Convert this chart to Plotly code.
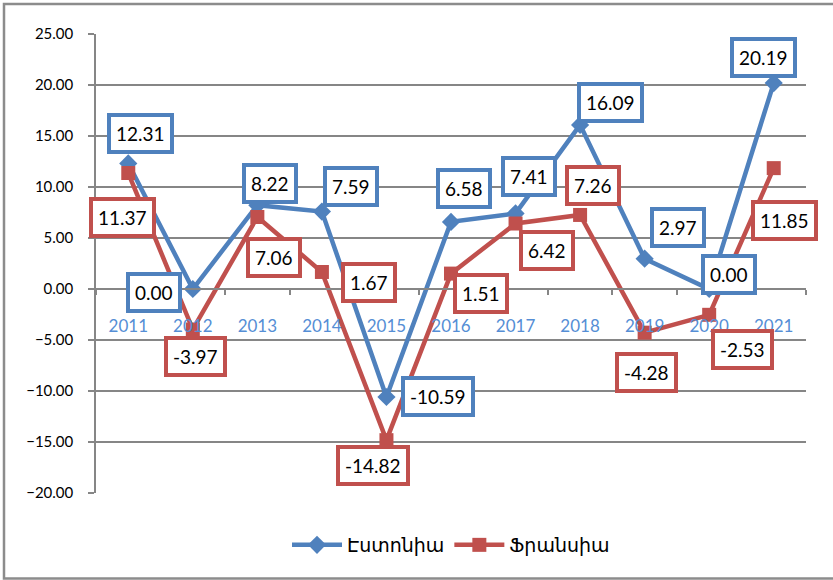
import plotly.graph_objects as go

years = ["2011", "2012", "2013", "2014", "2015", "2016", "2017", "2018", "2019", "2020", "2021"]
estonia = [12.31, 0.00, 8.22, 7.59, -10.59, 6.58, 7.41, 16.09, 2.97, 0.00, 20.19]
france = [11.37, -3.97, 7.06, 1.67, -14.82, 1.51, 6.42, 7.26, -4.28, -2.53, 11.85]
names = ["Էստոնիա", "Ֆրանսիա"]

# label offsets in pixels (dx right, dy down) relative to each marker
est_off = [(12, -30), (-39, 3), (13, -22), (29, -25), (52, -1), (13, -33),
           (13, -37), (30, -22), (33, -31), (20, -15), (-10, -26)]
fra_off = [(-6, 44), (3, 27), (17, 41), (47, 11), (-13, 25), (30, 20),
           (31, 27), (13, -29), (2, 40), (33, 35), (11, 52)]

BLUE = "#4F81BD"
RED = "#C0504D"
FONT = "Lato, DejaVu Sans, sans-serif"

fig = go.Figure()
fig.add_trace(go.Scatter(x=years, y=estonia, name=names[0], mode="lines+markers",
                         line=dict(color=BLUE, width=4.5),
                         marker=dict(symbol="diamond", size=14, color=BLUE)))
fig.add_trace(go.Scatter(x=years, y=france, name=names[1], mode="lines+markers",
                         line=dict(color=RED, width=4.5),
                         marker=dict(symbol="square", size=14, color=RED)))

anns = []
for vals, offs, col in ((estonia, est_off, BLUE), (france, fra_off, RED)):
    for i, (v, (dx, dy)) in enumerate(zip(vals, offs)):
        anns.append(dict(x=i, y=v, xref="x", yref="y", text=f"{v:.2f}", showarrow=False,
                         xshift=dx, yshift=-dy, font=dict(family=FONT, size=19, color="black"),
                         bgcolor="white", bordercolor=col, borderwidth=4, borderpad=5))

L, R, T, B = 96, 27, 34, 87
W, H = 833, 580
pw, ph = W - L - R, H - T - B

def px(xp):
    return (xp - L) / pw

def py(yp):
    return (H - B - yp) / ph

fig.update_layout(
    width=W, height=H,
    margin=dict(l=L, r=R, t=T, b=B),
    paper_bgcolor="white", plot_bgcolor="white",
    font=dict(family=FONT, size=14, color="black"),
    showlegend=True,
    legend=dict(orientation="h", x=0.5, xanchor="center", y=py(545), yanchor="middle",
                font=dict(family=FONT, size=19, color="black"), itemwidth=50),
    shapes=[dict(type="rect", xref="paper", yref="paper", x0=px(4), x1=px(845),
                 y0=py(578.5), y1=py(4), line=dict(color="#8C8C8C", width=2.5),
                 layer="below")],
)
for a in anns:
    fig.add_annotation(**a)

fig.update_xaxes(type="category", anchor="free", position=20 / 45,
                 showline=True, linecolor="#868686", linewidth=1.5,
                 ticks="outside", ticklen=5, tickcolor="#868686", tickwidth=1.5,
                 tickson="boundaries", showgrid=False, zeroline=False,
                 tickfont=dict(family=FONT, size=17, color="#558ED5"),
                 ticklabelstandoff=22, range=[-0.5, 10.5])
fig.update_yaxes(range=[-20, 25], dtick=5, tickformat=".2f",
                 showline=True, linecolor="#868686", linewidth=1.5,
                 ticks="outside", ticklen=6, tickcolor="#868686", tickwidth=1.5,
                 showgrid=True, gridcolor="#868686", gridwidth=1.5, zeroline=False,
                 tickfont=dict(family=FONT, size=15, color="black"),
                 ticklabelstandoff=12)

fig.write_html("out.html")
